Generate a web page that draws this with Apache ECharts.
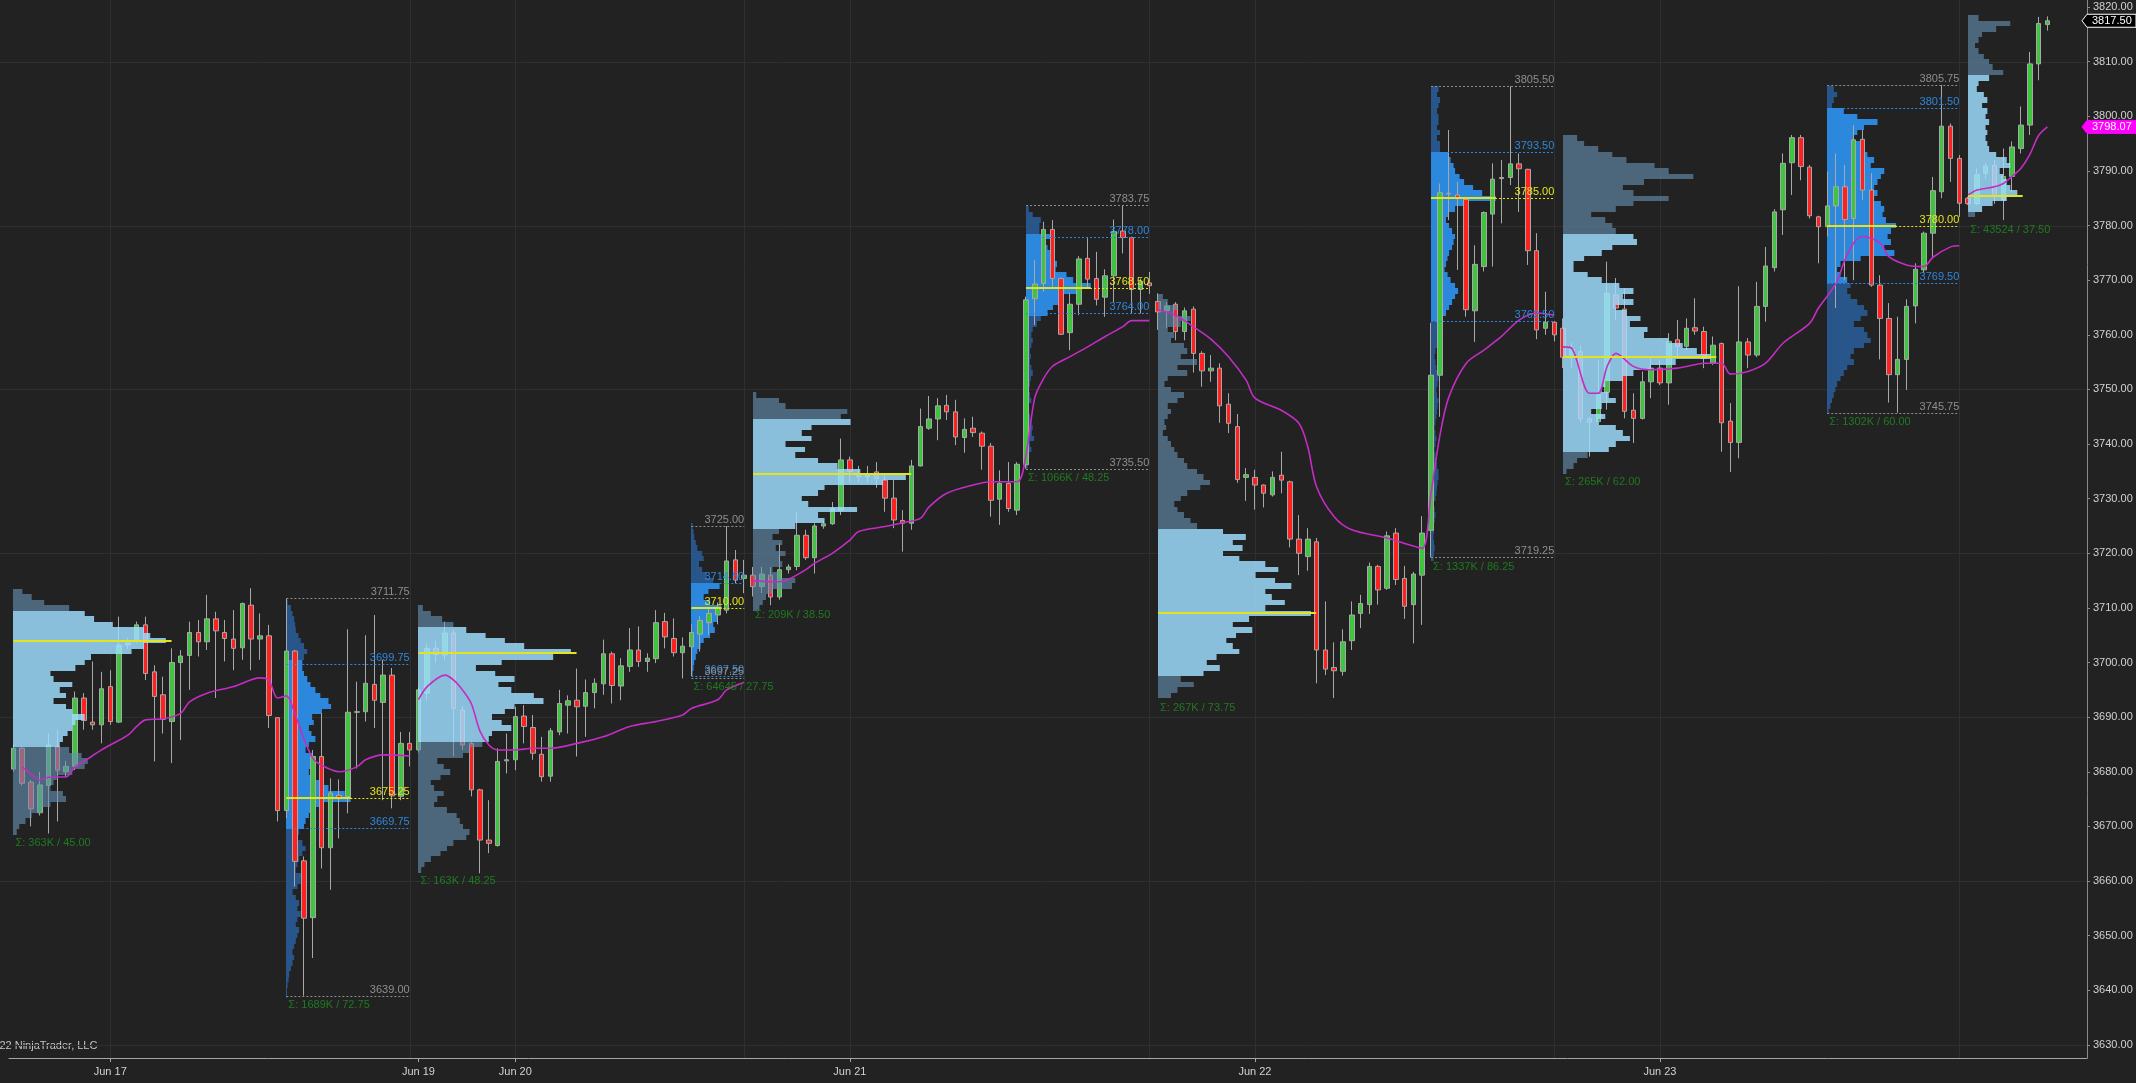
<!DOCTYPE html>
<html>
<head>
<meta charset="utf-8">
<title>ES 30 Minute - Volume Profile</title>
<script src="https://cdn.jsdelivr.net/npm/echarts@6.0.0/dist/echarts.min.js"></script>
<style>
html, body { margin:0; padding:0; background:#222222; overflow:hidden; }
#chart { width:2136px; height:1083px; }
</style>
</head>
<body>
<div id="chart"></div>
<script>
// ---------------- DATA ----------------
// 30-minute bars: [open, close, low, high]
const candleOHLC = [
[3680.5,3684.3,3680.0,3685.0],[3684.3,3677.9,3677.5,3684.6],[3678.1,3673.2,3670.0,3678.5],[3672.5,3677.6,3672.0,3680.0],
[3677.5,3684.9,3668.7,3687.0],[3684.6,3680.3,3670.9,3687.7],[3680.0,3681.0,3679.0,3682.0],[3681.0,3693.5,3680.3,3694.7],
[3693.5,3689.4,3687.7,3694.4],[3689.1,3688.6,3687.7,3700.2],[3688.6,3695.2,3685.2,3698.3],[3695.6,3689.2,3688.6,3698.6],
[3689.1,3703.2,3688.9,3708.4],[3703.2,3703.6,3702.5,3704.5],[3704.1,3706.9,3703.5,3707.5],[3706.9,3698.0,3696.8,3708.4],
[3698.3,3693.8,3681.9,3699.5],[3694.1,3689.6,3687.0,3697.4],[3689.2,3700.0,3681.6,3702.6],[3700.0,3701.2,3685.8,3702.3],
[3701.3,3705.5,3695.0,3707.5],[3705.5,3703.8,3701.1,3707.8],[3703.8,3708.0,3702.3,3712.4],[3708.0,3705.8,3693.5,3709.3],
[3705.5,3704.4,3700.2,3707.8],[3704.3,3702.6,3698.6,3709.6],[3702.7,3710.8,3700.5,3711.0],[3710.5,3704.3,3698.6,3713.6],
[3704.3,3704.9,3700.5,3709.0],[3704.9,3690.3,3688.0,3706.9],[3689.9,3672.9,3670.9,3690.0],[3672.9,3702.1,3671.5,3711.75],
[3702.1,3663.6,3659.0,3702.3],[3663.7,3653.2,3639.0,3664.5],[3653.3,3682.8,3645.9,3684.0],[3682.8,3666.1,3662.3,3690.7],
[3666.1,3676.1,3658.4,3678.8],[3675.7,3675.1,3667.8,3678.6],[3675.5,3690.9,3672.4,3706.1],[3690.9,3691.0,3680.6,3696.5],
[3691.0,3696.2,3689.2,3705.0],[3696.0,3693.1,3688.0,3708.7],[3692.7,3697.7,3674.8,3700.5],[3697.7,3675.6,3673.3,3699.0],
[3675.5,3685.2,3674.8,3687.3],[3685.2,3684.0,3681.0,3687.3],[3684.0,3695.0,3683.5,3695.5],[3694.4,3702.6,3693.0,3703.5],
[3702.6,3701.5,3700.0,3704.0],[3701.4,3705.4,3700.5,3707.5],[3705.4,3691.6,3682.8,3706.0],[3691.3,3684.9,3684.0,3692.0],
[3685.2,3676.7,3675.5,3685.5],[3676.7,3667.5,3661.4,3676.9],[3667.5,3666.9,3665.1,3674.8],[3666.5,3681.9,3666.3,3684.3],
[3682.0,3682.2,3679.7,3687.0],[3682.2,3690.1,3680.3,3691.9],[3690.2,3688.3,3685.2,3692.2],[3688.1,3683.4,3682.2,3690.4],
[3683.2,3679.1,3678.2,3686.4],[3679.2,3687.5,3678.2,3688.0],[3687.3,3692.5,3686.7,3695.0],[3692.2,3693.0,3687.0,3694.0],
[3693.1,3691.9,3682.8,3698.9],[3692.0,3694.5,3686.4,3696.9],[3694.5,3696.2,3691.6,3697.1],[3696.1,3701.6,3694.1,3704.2],
[3701.6,3695.8,3692.5,3702.0],[3695.7,3699.4,3693.1,3700.8],[3699.3,3702.3,3698.3,3706.3],[3702.3,3700.2,3699.2,3706.6],
[3700.2,3700.8,3698.3,3701.7],[3700.7,3707.3,3699.9,3709.6],[3707.5,3704.7,3702.6,3709.1],[3704.4,3701.8,3701.1,3708.1],
[3701.8,3703.0,3697.1,3704.6],[3702.9,3705.5,3697.5,3707.0],[3705.2,3707.7,3702.0,3708.5],[3707.3,3709.0,3705.0,3710.0],
[3708.7,3710.0,3707.0,3711.0],[3709.6,3718.6,3709.0,3725.0],[3718.8,3715.1,3714.5,3720.6],[3715.4,3716.0,3712.7,3718.8],
[3716.0,3713.9,3712.1,3717.5],[3713.9,3716.2,3712.7,3717.5],[3716.0,3712.0,3710.5,3717.5],[3712.0,3717.0,3711.5,3721.8],
[3717.0,3717.5,3716.3,3718.0],[3717.6,3723.3,3716.9,3727.6],[3723.3,3719.2,3718.8,3724.3],[3719.2,3725.0,3716.3,3725.5],
[3725.0,3725.4,3724.5,3726.0],[3725.4,3728.2,3725.2,3729.4],[3727.9,3737.1,3727.0,3741.0],[3737.1,3735.0,3733.0,3737.7],
[3734.5,3734.0,3733.0,3736.0],[3734.0,3734.6,3733.0,3736.0],[3734.9,3733.7,3732.0,3736.7],[3733.4,3730.1,3727.6,3734.6],
[3730.1,3726.1,3724.6,3733.4],[3726.0,3725.5,3720.3,3727.9],[3725.5,3736.0,3724.3,3737.1],[3736.0,3743.2,3735.9,3746.5],
[3742.9,3744.6,3742.6,3748.8],[3744.6,3747.0,3740.7,3748.4],[3747.1,3745.9,3744.4,3749.0],[3745.9,3741.3,3739.8,3748.1],
[3741.2,3742.7,3738.4,3744.7],[3742.9,3742.1,3741.3,3745.0],[3742.0,3739.6,3735.3,3742.3],[3739.6,3729.7,3726.7,3740.2],
[3729.9,3732.8,3725.2,3735.2],[3732.8,3728.2,3727.6,3736.7],[3727.9,3736.3,3727.0,3736.7],[3736.2,3766.4,3735.5,3767.0],
[3766.6,3769.3,3761.8,3773.7],[3769.4,3779.3,3767.9,3780.7],[3779.3,3770.3,3768.8,3781.0],[3770.3,3760.1,3760.0,3770.5],
[3760.4,3765.6,3757.2,3767.6],[3765.6,3773.9,3763.6,3774.4],[3774.0,3770.2,3768.8,3777.7],[3770.3,3766.5,3765.4,3775.2],
[3766.9,3770.8,3763.3,3772.0],[3770.8,3778.9,3766.0,3781.1],[3779.0,3777.8,3774.9,3783.75],[3777.8,3768.3,3763.9,3778.0],
[3768.3,3769.7,3763.9,3770.3],[3769.5,3769.0,3767.5,3771.5],[3766.1,3764.2,3760.9,3767.6],[3764.4,3765.3,3761.2,3766.0],
[3765.6,3760.6,3759.0,3766.0],[3760.6,3764.4,3759.0,3765.0],[3764.7,3756.6,3753.1,3765.2],[3756.6,3753.4,3750.5,3757.0],
[3753.4,3753.9,3751.4,3756.3],[3753.9,3747.0,3743.9,3754.8],[3747.3,3743.8,3742.0,3749.3],[3743.2,3733.5,3732.9,3745.5],
[3733.9,3734.4,3729.6,3735.6],[3733.9,3732.5,3728.0,3735.3],[3732.5,3731.0,3728.4,3732.6],[3730.7,3733.9,3730.4,3735.0],
[3734.3,3733.4,3731.0,3738.6],[3733.1,3722.6,3721.1,3733.3],[3722.6,3720.0,3716.0,3727.0],[3719.4,3722.6,3716.8,3724.6],
[3722.1,3702.3,3696.2,3722.8],[3702.3,3698.8,3697.7,3711.2],[3699.1,3698.5,3693.5,3703.7],[3698.4,3703.8,3697.6,3706.1],
[3704.0,3708.7,3702.3,3711.2],[3709.0,3710.8,3706.3,3712.4],[3710.6,3717.6,3708.9,3718.3],[3717.6,3713.3,3710.6,3717.9],
[3713.6,3723.2,3713.3,3724.0],[3723.7,3715.2,3714.2,3724.6],[3715.4,3710.3,3708.0,3717.7],[3710.6,3716.2,3703.5,3716.6],
[3716.0,3723.7,3706.9,3726.8],[3724.2,3752.6,3719.25,3762.2],[3752.6,3786.0,3745.0,3787.7],[3785.9,3785.8,3781.0,3797.5],
[3785.6,3785.0,3771.9,3788.0],[3784.8,3764.6,3763.3,3785.0],[3764.4,3772.9,3758.7,3776.4],[3772.5,3782.4,3771.6,3782.6],
[3782.1,3788.5,3772.5,3791.4],[3788.6,3788.8,3780.4,3792.0],[3788.8,3791.3,3787.4,3805.5],[3791.3,3790.4,3782.5,3793.2],
[3790.3,3775.4,3772.8,3790.4],[3775.4,3760.9,3759.2,3778.6],[3761.2,3762.3,3760.0,3767.9],[3762.3,3760.0,3758.8,3762.5],
[3761.2,3755.9,3753.9,3763.0],[3755.9,3757.3,3754.0,3758.5],[3756.9,3744.6,3744.0,3758.0],[3744.6,3744.0,3737.7,3745.0],
[3744.1,3749.0,3743.5,3755.4],[3749.5,3767.6,3746.3,3773.4],[3767.3,3764.9,3762.7,3770.4],[3764.7,3746.0,3744.7,3768.5],
[3746.2,3744.7,3740.2,3749.3],[3744.7,3751.4,3744.5,3753.3],[3751.4,3753.9,3748.4,3755.7],[3753.9,3751.2,3750.8,3755.4],
[3751.2,3758.8,3747.2,3760.3],[3759.1,3757.9,3755.7,3762.7],[3757.9,3761.2,3757.2,3763.0],[3761.3,3760.7,3760.0,3766.7],
[3760.6,3755.7,3753.9,3761.5],[3754.8,3758.1,3754.5,3759.7],[3758.4,3743.9,3738.6,3758.6],[3744.2,3740.3,3734.9,3747.5],
[3740.3,3758.7,3737.4,3768.9],[3758.7,3756.3,3753.9,3759.4],[3756.3,3765.2,3755.9,3769.7],[3765.2,3772.6,3762.4,3776.1],
[3772.3,3782.5,3771.6,3783.0],[3782.9,3791.4,3778.3,3793.2],[3791.5,3796.1,3785.6,3796.6],[3796.1,3790.8,3788.3,3796.6],
[3790.7,3781.8,3781.3,3791.1],[3781.6,3779.8,3773.1,3781.8],[3779.8,3783.6,3778.0,3789.9],[3783.6,3787.1,3764.9,3793.2],
[3787.1,3781.1,3770.0,3791.1],[3781.3,3795.7,3770.0,3798.4],[3795.8,3786.5,3784.7,3797.5],[3786.5,3769.1,3768.8,3789.6],
[3769.1,3763.0,3755.5,3770.9],[3763.0,3752.7,3747.6,3765.8],[3752.7,3755.5,3745.75,3763.3],[3755.5,3765.2,3749.9,3766.5],
[3765.3,3772.0,3762.1,3773.1],[3771.9,3778.6,3771.3,3778.9],[3778.6,3786.4,3774.0,3788.9],[3786.2,3798.2,3785.0,3805.75],
[3798.2,3792.3,3788.0,3798.7],[3792.3,3784.1,3781.6,3792.9],[3785.0,3784.0,3783.8,3785.3],[3784.0,3789.3,3783.8,3790.5],
[3789.6,3790.9,3788.5,3791.5],[3791.0,3785.5,3784.0,3792.0],[3784.7,3789.0,3781.0,3794.1],[3789.0,3794.4,3786.2,3795.4],
[3794.1,3798.4,3793.2,3801.8],[3798.4,3809.6,3796.6,3811.8],[3809.6,3817.0,3806.6,3818.2],[3816.8,3817.5,3815.7,3818.3]
];

// x-axis date ticks (bar index -> label)
const dateTickBars   = [11, 46, 57, 95, 141, 187];
const dateTickLabels = ['Jun 17', 'Jun 19', 'Jun 20', 'Jun 21', 'Jun 22', 'Jun 23'];
// price axis ticks and grid lines
const priceTickValues = [3630,3640,3650,3660,3670,3680,3690,3700,3710,3720,3730,3740,3750,3760,3770,3780,3790,3800,3810,3820];
const priceGridValues = [3630,3660,3690,3720,3750,3780,3810];
const dividerBars = [11, 45, 57, 83, 95, 129, 141, 175, 187, 221];

// session VWAP line (bar index, value), one array per session
const vwapSeg1 = [[1,3680.9],[2,3679.6],[3,3678.5],[4,3679.0],[6,3679.1],[7,3680.9],[8,3681.9],[10,3684.0],[11,3684.9],[13,3686.7],[14,3688.3],[15,3689.5],[17,3689.7],[19,3690.7],[20,3692.8],[22,3694.4],[25,3695.6],[28,3697.2],[29,3696.8],[30,3693.5],[31,3693.9],[32,3690.5],[33,3686.0],[34,3682.5],[35,3681.2],[37,3680.0],[39,3680.9],[40,3682.2],[42,3683.1],[45,3682.9]];
const vwapSeg2 = [[46,3693.2],[47,3695.6],[49,3697.7],[50,3696.8],[51,3695.0],[52,3692.5],[53,3687.4],[54,3684.9],[55,3684.0],[57,3684.0],[59,3684.3],[61,3684.3],[64,3685.2],[67,3686.4],[70,3688.3],[73,3689.2],[76,3690.4],[77,3691.6],[80,3693.2],[81,3695.0],[83,3696.4]];
const vwapSeg3 = [[84,3715.0],[86,3714.8],[87,3714.8],[88,3715.2],[90,3717.0],[91,3718.2],[93,3720.0],[95,3722.4],[96,3724.0],[99,3724.9],[101,3725.6],[103,3726.4],[104,3728.5],[106,3731.0],[109,3732.5],[111,3733.1],[114,3733.1],[115,3738.0],[116,3748.5],[117,3752.0],[118,3754.2],[120,3756.0],[122,3757.8],[124,3759.7],[126,3761.5],[127,3762.6],[129,3762.6]];
const vwapSeg4 = [[130,3764.6],[132,3763.6],[134,3761.5],[136,3759.2],[138,3756.0],[140,3751.7],[141,3748.4],[144,3746.2],[146,3743.8],[147,3739.5],[148,3732.2],[150,3726.7],[152,3724.3],[156,3722.8],[158,3721.8],[160,3720.9],[161,3731.0],[162,3741.5],[163,3748.5],[165,3754.8],[167,3757.2],[169,3759.7],[171,3762.7],[173,3764.0],[175,3763.6]];
const vwapSeg5 = [[176,3757.8],[177,3757.5],[179,3749.3],[180,3749.3],[181,3754.2],[182,3756.6],[184,3754.2],[186,3753.6],[189,3753.9],[190,3754.2],[192,3754.8],[194,3754.8],[195,3752.8],[197,3753.3],[199,3754.8],[201,3758.5],[204,3762.1],[205,3764.9],[207,3769.4],[208,3773.7],[209,3776.8],[210,3778.0],[212,3776.8],[213,3774.3],[215,3772.8],[217,3772.5],[218,3774.2],[220,3776.1],[221,3776.3]];
const vwapSeg6 = [[222,3785.6],[223,3786.5],[225,3787.1],[226,3787.7],[227,3789.0],[228,3790.5],[229,3793.0],[230,3796.5],[231,3798.07]];

// volume at price, 1-point levels, from the lowest level upward
const prof1Vol  = [12,20,40,60,90,120,170,160,120,130,140,190,230,240,220,180,150,160,175,190,200,230,190,170,130,170,150,190,130,120,200,230,250,380,420,490,440,420,320,260,230,180,100,60,30];
const prof2Vol  = [3,3,5,8,10,15,20,25,20,25,30,35,40,30,35,45,35,40,30,20,35,45,50,30,35,40,50,60,50,35,40,55,60,70,90,110,198,180,130,110,90,70,80,75,80,60,70,90,78,70,85,80,110,138,130,105,90,75,65,55,50,50,55,65,55,45,38,30,28,25,20,15,5];
const prof3Vol  = [10,20,40,70,90,110,150,160,140,130,120,90,50,60,80,50,40,70,100,80,60,140,160,200,220,230,290,260,230,270,300,390,360,290,250,300,240,180,260,420,475,330,270,210,150,110,75,40,15];
const prof4Vol  = [5,8,10,15,20,30,40,60,75,70,85,80,95,60,40,55,90,70,50,35,25,40,35,20,15,10,8,5];
const prof5Vol  = [20,30,40,60,120,130,80,60,90,80,100,70,90,60,80,130,220,200,320,170,150,200,220,400,470,330,260,200,130,160,100,180,150,180,300,270,290,100,80,10];
const prof6Vol  = [6,10,12,20,15,30,22,25,20,15,12,10,20,15,12,15,18,25,20,15,18,15,20,25,20,25,40,55,80,100,120,140,200,240,175,150,110,115,105,95,80,70,90,50,50,55,25,10];
const prof7Vol  = [40,60,110,70,140,190,150,180,250,230,210,240,290,230,280,470,330,390,350,330,410,360,300,370,330,250,200,260,230,270,200,120,100,80,60,50,70,90,130,160,140,120,90,80,60,50,40,30,15,25,20,30,40,30,60,80,40,20,30,90,60,120,70,90,80,40,50,30,70,100,50,60,30,15];
const prof8Vol  = [8,10,12,10,8,10,10,12,15,12,10,15,18,20,22,25,25,20,18,15,12,15,18,15,12,15,18,20,22,25,20,18,22,25,20,18,15,12,15,20,25,30,40,35,40,50,60,70,80,90,80,65,55,45,50,55,60,70,75,80,70,60,50,60,80,120,215,170,140,110,95,80,75,65,60,30,30,20,30,20,25,25,20,25,30,20,25];
const prof9Vol  = [10,30,40,70,130,150,190,170,150,100,120,80,110,150,130,110,120,170,200,250,320,420,380,340,300,230,240,190,220,180,150,200,170,200,160,110,70,30,30,60,110,140,210,200,150,140,120,80,150,200,300,200,170,230,370,300,260,180,140,100,60,40];
const prof10Vol = [5,10,15,20,25,30,40,50,60,80,70,80,110,130,120,110,80,100,120,110,90,70,60,70,60,40,30,40,100,200,170,190,180,190,205,175,165,170,160,140,150,140,150,160,170,130,140,120,110,100,80,90,110,150,90,50,15,20,30,20];
const prof11Vol = [20,40,70,110,140,120,110,100,90,120,110,80,60,55,50,55,50,60,50,55,40,55,45,25,30,60,100,70,60,45,30,20,30,40,80,120,30];

const profileVolumes  = [prof1Vol, prof2Vol, prof3Vol, prof4Vol, prof5Vol, prof6Vol, prof7Vol, prof8Vol, prof9Vol, prof10Vol, prof11Vol];
const profileStartBar = [0, 31, 46, 77, 84, 115, 130, 161, 176, 206, 222];
const profileEndBar   = [30, 45, 76, 83, 114, 129, 160, 175, 205, 221, 231];
const profileSession  = ['eth','rth','eth','rth','eth','rth','eth','rth','eth','rth','eth'];
const profileLowLevel = [3669, 3639, 3662, 3698, 3710, 3736, 3694, 3719, 3735, 3746, 3782];
const profileHigh     = [3713.75, 3711.75, 3710.00, 3725.00, 3749.00, 3783.75, 3767.25, 3805.50, 3796.75, 3805.75, 3818.50];
const profileLow      = [3668.75, 3639.00, 3661.75, 3697.25, 3710.50, 3735.50, 3693.50, 3719.25, 3734.75, 3745.75, 3781.00];
const profileVAH      = [3709.00, 3699.75, 3706.00, 3714.50, 3744.00, 3778.00, 3724.00, 3793.50, 3778.50, 3801.50, 3807.50];
const profileVAL      = [3685.00, 3669.75, 3685.50, 3697.50, 3724.50, 3764.00, 3697.50, 3762.50, 3738.50, 3769.50, 3783.00];
const profilePOC      = [3704.00, 3675.25, 3701.75, 3710.00, 3734.50, 3768.50, 3709.00, 3785.00, 3756.00, 3780.00, 3785.50];
const profileSigma    = ['Σ: 363K / 45.00','Σ: 1689K / 72.75','Σ: 163K / 48.25','Σ: 64645 / 27.75','Σ: 209K / 38.50',
                         'Σ: 1066K / 48.25','Σ: 267K / 73.75','Σ: 1337K / 86.25','Σ: 265K / 62.00','Σ: 1302K / 60.00','Σ: 43524 / 37.50'];

const lastPrice = candleOHLC[candleOHLC.length - 1][1];
const vwapLast  = vwapSeg6[vwapSeg6.length - 1][1];

// ---------------- STYLE ----------------
const FONT = '"Liberation Sans", Arial, sans-serif';
const C = {
  bg: '#222222', grid: '#2f2f2f', up: '#3ec43e', down: '#ff2020', wick: '#a8a8a8',
  vwap: '#c42cc4', poc: '#e4e41c', gray: '#8e8e8e', blue: '#2f86dc', sigma: '#1f7a1f',
  ethVA: 'rgba(158,222,255,0.84)', ethOut: 'rgba(101,144,177,0.62)',
  rthVA: '#2c88dc', rthOut: '#29568a', axis: '#a6a6a6', axisText: '#d2d2d2'
};
const WIDTH_RATIO = { eth: 0.56, rth: 0.49 };
const TRAILING_SLOTS = 4;

// ---------------- BUILD ----------------
const categories = candleOHLC.map((_, i) => 'bar' + i)
  .concat(Array.from({ length: TRAILING_SLOTS }, (_, i) => 'pad' + i));

function maxWidthOf(k) {
  return WIDTH_RATIO[profileSession[k]] * (profileEndBar[k] - profileStartBar[k] + 1);
}

function buildProfileRows(session) {
  const rows = [];
  profileVolumes.forEach((vols, k) => {
    if (profileSession[k] !== session) return;
    const maxV = Math.max.apply(null, vols);
    const maxW = maxWidthOf(k);
    vols.forEach((v, i) => {
      const p = profileLowLevel[k] + i;
      const inVA = (p + 0.5 > profileVAL[k] && p - 0.5 < profileVAH[k]) ? 1 : 0;
      rows.push([profileStartBar[k], p, v / maxV * maxW, inVA]);
    });
  });
  return rows;
}

function profileRenderer(vaFill, outFill) {
  return function (params, api) {
    const start = api.value(0), p = api.value(1), w = api.value(2);
    const a = api.coord([start, p + 0.5]);
    const b = api.coord([start, p - 0.5]);
    const slot = api.size([1, 0])[0];
    const y0 = Math.round(a[1]), y1 = Math.round(b[1]);
    return {
      type: 'rect',
      shape: { x: Math.round(a[0]), y: y0, width: Math.max(1, w * slot), height: y1 - y0 },
      style: { fill: api.value(3) ? vaFill : outFill }
    };
  };
}

const ethIdx = profileSession.map((s, k) => s === 'eth' ? k : -1).filter(k => k >= 0);
const rthIdx = profileSession.map((s, k) => s === 'rth' ? k : -1).filter(k => k >= 0);

function textEl(x, y, text, fill, align, vAlign, extra) {
  return Object.assign({
    type: 'text', x: x, y: y,
    style: { text: text, fill: fill, fontSize: 11, fontFamily: FONT,
             align: align, textAlign: align, verticalAlign: vAlign, textVerticalAlign: vAlign }
  }, extra || {});
}

const series = [];

// grid lines
series.push({
  type: 'custom', z: 0, silent: true, animation: false,
  data: priceGridValues.map(v => [0, v]), encode: { x: 0, y: 1 },
  renderItem: function (params, api) {
    const cs = params.coordSys;
    const y = Math.round(api.coord([0, api.value(1)])[1]) + 0.5;
    return { type: 'line', shape: { x1: cs.x - 9, y1: y, x2: cs.x + cs.width, y2: y }, style: { stroke: C.grid, lineWidth: 1 } };
  }
});
series.push({
  type: 'custom', z: 0, silent: true, animation: false,
  data: dividerBars.map(b => [b, priceGridValues[0]]), encode: { x: 0, y: 1 },
  renderItem: function (params, api) {
    const cs = params.coordSys;
    const x = Math.round(api.coord([api.value(0), 0])[0]) + 0.5;
    return { type: 'line', shape: { x1: x, y1: cs.y, x2: x, y2: cs.y + cs.height }, style: { stroke: C.grid, lineWidth: 1 } };
  }
});

// RTH profiles (under candles)
series.push({
  type: 'custom', z: 1, silent: true, animation: false,
  data: buildProfileRows('rth'), encode: { x: 0, y: 1 },
  renderItem: profileRenderer(C.rthVA, C.rthOut)
});

// candles
series.push({
  type: 'candlestick', z: 2, silent: true, animation: false,
  data: candleOHLC, barWidth: 5,
  itemStyle: { color: C.up, color0: C.down, borderColor: C.wick, borderColor0: C.wick, borderWidth: 1 }
});

// ETH profiles (over candles, translucent)
series.push({
  type: 'custom', z: 3, silent: true, animation: false,
  data: buildProfileRows('eth'), encode: { x: 0, y: 1 },
  renderItem: profileRenderer(C.ethVA, C.ethOut)
});

// VWAP per session
[vwapSeg1, vwapSeg2, vwapSeg3, vwapSeg4, vwapSeg5, vwapSeg6].forEach(seg => {
  series.push({
    type: 'line', z: 4, silent: true, animation: false, data: seg,
    symbol: 'none', showSymbol: false, smooth: 0.3,
    lineStyle: { color: C.vwap, width: 1.6 }
  });
});

// ETH POC lines
series.push({
  type: 'custom', z: 5, silent: true, animation: false,
  data: ethIdx.map(k => [profileStartBar[k], profilePOC[k]]), encode: { x: 0, y: 1 },
  renderItem: function (params, api) {
    const k = ethIdx[params.dataIndex];
    const pt = api.coord([api.value(0), api.value(1)]);
    const slot = api.size([1, 0])[0];
    const y = Math.round(pt[1]);
    return { type: 'line', shape: { x1: pt[0], y1: y, x2: pt[0] + (maxWidthOf(k) + 0.6) * slot, y2: y },
             style: { stroke: C.poc, lineWidth: 2 } };
  }
});

// RTH key levels with value labels
series.push({
  type: 'custom', z: 6, silent: true, animation: false,
  data: rthIdx.map(k => [profileStartBar[k], profilePOC[k]]), encode: { x: 0, y: 1 },
  renderItem: function (params, api) {
    const k = rthIdx[params.dataIndex];
    const x0 = api.coord([profileStartBar[k], profilePOC[k]])[0];
    const x1 = api.coord([profileEndBar[k] + 0.3, profilePOC[k]])[0];
    const slot = api.size([1, 0])[0];
    const levels = [
      { v: profileHigh[k], c: C.gray }, { v: profileVAH[k], c: C.blue }, { v: profilePOC[k], c: C.poc },
      { v: profileVAL[k], c: C.blue }, { v: profileLow[k], c: C.gray }
    ];
    const children = [];
    levels.forEach(l => {
      const y = Math.round(api.coord([0, l.v])[1]) + 0.5;
      children.push({ type: 'line', shape: { x1: x0, y1: y, x2: x1, y2: y },
                      style: { stroke: l.c, lineWidth: 1, lineDash: [2, 2] } });
      children.push(textEl(x1, y - 1, l.v.toFixed(2), l.c, 'right', 'bottom'));
    });
    const yp = Math.round(api.coord([0, profilePOC[k]])[1]);
    children.push({ type: 'line', shape: { x1: x0, y1: yp, x2: x0 + maxWidthOf(k) * slot, y2: yp },
                    style: { stroke: C.poc, lineWidth: 2 } });
    return { type: 'group', children: children };
  }
});

// session totals under each profile
series.push({
  type: 'custom', z: 6, silent: true, animation: false,
  data: profileStartBar.map((s, k) => [s, profileLow[k]]), encode: { x: 0, y: 1 },
  renderItem: function (params, api) {
    const pt = api.coord([api.value(0), api.value(1)]);
    return textEl(pt[0] + 2, pt[1] + 4, profileSigma[params.dataIndex], C.sigma, 'left', 'top');
  }
});

// price tags on the axis
series.push({
  type: 'custom', z: 10, silent: true, animation: false, clip: false,
  data: [[candleOHLC.length - 1, lastPrice], [candleOHLC.length - 1, vwapLast]], encode: { x: 0, y: 1 },
  renderItem: function (params, api) {
    const cs = params.coordSys;
    const y = api.coord([0, api.value(1)])[1];
    const isLast = params.dataIndex === 0;
    const body = cs.x + cs.width, tip = body - 5, right = body + 49, h = 6.5;
    return { type: 'group', children: [
      { type: 'polygon', shape: { points: [[tip, y], [body, y - h], [right, y - h], [right, y + h], [body, y + h]] },
        style: { fill: isLast ? '#000000' : '#ff00ff', stroke: isLast ? '#ffffff' : '#ff00ff', lineWidth: 1 } },
      textEl(body + 5, y + 0.5, api.value(1).toFixed(2), '#ffffff', 'left', 'middle')
    ] };
  }
});

const option = {
  backgroundColor: C.bg,
  animation: false,
  grid: { left: 9, right: 49, top: 0, bottom: 25 },
  xAxis: {
    type: 'category', data: categories, boundaryGap: true,
    axisLine: { onZero: false, lineStyle: { color: C.axis, width: 1 } },
    axisTick: { show: true, alignWithLabel: true, length: 4, lineStyle: { color: C.axis },
                interval: function (i) { return dateTickBars.indexOf(i) >= 0; } },
    axisLabel: { color: C.axisText, fontSize: 11, fontFamily: FONT, margin: 8,
                 interval: function (i) { return dateTickBars.indexOf(i) >= 0; },
                 formatter: function (v, i) { const d = dateTickBars.indexOf(i); return d >= 0 ? dateTickLabels[d] : ''; } },
    splitLine: { show: false }
  },
  yAxis: {
    type: 'value', position: 'right', min: 3627.6, max: 3821.3, scale: true,
    axisLine: { show: true, lineStyle: { color: '#8a8a8a' } },
    axisTick: { show: true, length: 3, lineStyle: { color: '#8a8a8a' }, customValues: priceTickValues },
    axisLabel: { color: C.axisText, fontSize: 11, fontFamily: FONT, margin: 6, customValues: priceTickValues,
                 formatter: function (v) { return Number(v).toFixed(2); } },
    splitLine: { show: false }
  },
  graphic: [{
    type: 'text', x: -24, y: 1046,
    style: { text: '© 2022 NinjaTrader, LLC', fill: '#c4c4c4', fontSize: 11, fontFamily: FONT,
             verticalAlign: 'middle', textVerticalAlign: 'middle' }
  }],
  series: series
};

const chart = echarts.init(document.getElementById('chart'), null, { renderer: 'canvas' });
chart.setOption(option);
</script>
</body>
</html>
